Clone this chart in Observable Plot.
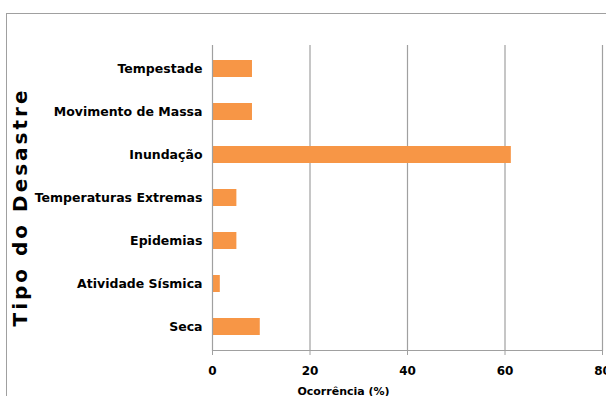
<!DOCTYPE html>
<html><head><meta charset="utf-8">
<script src="https://cdn.jsdelivr.net/npm/d3@7"></script>
<script src="https://cdn.jsdelivr.net/npm/@observablehq/plot@0.6"></script>
<style>
html,body{margin:0;padding:0;background:#fff;overflow:hidden;}
#wrap{position:relative;width:606px;height:396px;}
#frame{position:absolute;left:6px;top:13px;width:700px;height:500px;border:1.5px solid #a0a0a0;box-sizing:border-box;}
#chart{position:absolute;left:0;top:0;}
</style></head><body>
<div id="wrap"><div id="frame"></div><div id="chart"></div></div>
<script>
const categories = ["Tempestade","Movimento de Massa","Inundação","Temperaturas Extremas","Epidemias","Atividade Sísmica","Seca"];
const values = [8.2, 8.2, 61.3, 5.0, 5.0, 1.6, 9.8];
const xTicks = [0, 20, 40, 60, 80];
const xLabel = "Ocorrência (%)";
const yLabel = "Tipo do Desastre";

const data = categories.map((c, i) => ({cat: c, val: values[i]}));
const font = "DejaVu Sans, sans-serif";

const chart = Plot.plot({
  width: 606, height: 396,
  marginLeft: 212, marginRight: 4, marginTop: 45, marginBottom: 46,
  style: {fontFamily: font, background: "transparent", overflow: "visible"},
  x: {domain: [0, 80], ticks: xTicks},
  y: {domain: categories, paddingInner: 0.6, paddingOuter: 0.3},
  marks: [
    Plot.gridX(xTicks.slice(1), {stroke: "#a0a0a0", strokeOpacity: 1, strokeWidth: 1.2}),
    Plot.barX(data, {y: "cat", x: "val", fill: "#F79646"}),
    Plot.ruleX([0], {stroke: "#a0a0a0", strokeWidth: 1.2}),
    Plot.frame({anchor: "bottom", stroke: "#a0a0a0", strokeWidth: 1.2}),
    Plot.axisX({ticks: xTicks, tickSize: 5, tickPadding: 11, stroke: "#a0a0a0", strokeOpacity: 1, fontSize: 12, fontWeight: "bold", fill: "#000", label: null}),
    Plot.axisY({tickSize: 0, tickPadding: 10, fontSize: 12.5, fontWeight: "bold", fill: "#000", label: null}),
    Plot.text([xLabel], {frameAnchor: "bottom", dx: -64, dy: 44, fontSize: 11, fontWeight: "bold", fill: "#000", text: d => d}),
    Plot.text([yLabel], {frameAnchor: "left", textAnchor: "middle", dx: -192, dy: 9, rotate: -90, fontSize: 20, fontWeight: "bold", fill: "#000", text: d => d})
  ]
});
d3.select(chart).selectAll("text").filter(function() { return this.textContent === yLabel; }).style("letter-spacing", "3px");
document.getElementById("chart").appendChild(chart);
</script>
</body></html>
